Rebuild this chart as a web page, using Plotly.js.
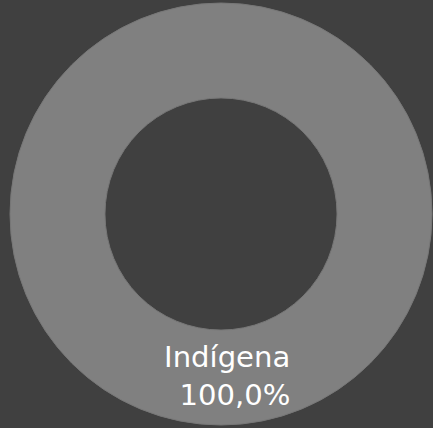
<!DOCTYPE html>
<html><head><meta charset="utf-8">
<script src="https://cdn.plot.ly/plotly-3.0.1.min.js"></script>
<style>html,body{margin:0;padding:0;background:#404040;}</style>
</head><body><div id="chart" style="width:433px;height:428px;"></div>
<script>
const labels = ["Indígena"];
const values = [100];
const colors = ["#808080"];
Plotly.newPlot("chart", [{
  type: "pie",
  labels: labels,
  values: values,
  hole: 0.55,
  sort: false,
  marker: {colors: colors, line: {color: "#777777", width: 1}},
  textinfo: "label+percent",
  texttemplate: "<span style='font-size:40px'>\u00a0</span>%{label}<br>   %{percent:.1%}",
  textposition: "inside",
  insidetextfont: {family: "DejaVu Sans, Verdana, sans-serif", size: 30, color: "#ffffff"},
  showlegend: false,
  hoverinfo: "none"
}], {
  width: 433, height: 428,
  margin: {l: 10, r: 1, t: 3, b: 3},
  paper_bgcolor: "#404040",
  plot_bgcolor: "#404040",
  separators: ",."
}, {displayModeBar: false, staticPlot: true});
</script></body></html>
